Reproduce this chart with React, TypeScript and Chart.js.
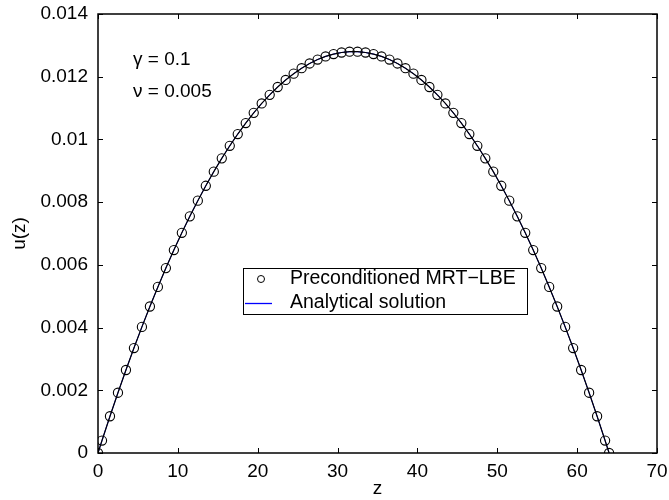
import React, { useEffect, useRef } from "react";
import { Chart, registerables } from "chart.js";

Chart.register(...registerables);

const zNodes = [
  0, 0.5, 1.5, 2.5, 3.5, 4.5, 5.5, 6.5, 7.5, 8.5, 9.5, 10.5, 11.5, 12.5, 13.5, 14.5, 15.5,
  16.5, 17.5, 18.5, 19.5, 20.5, 21.5, 22.5, 23.5, 24.5, 25.5, 26.5, 27.5, 28.5, 29.5, 30.5,
  31.5, 32.5, 33.5, 34.5, 35.5, 36.5, 37.5, 38.5, 39.5, 40.5, 41.5, 42.5, 43.5, 44.5, 45.5,
  46.5, 47.5, 48.5, 49.5, 50.5, 51.5, 52.5, 53.5, 54.5, 55.5, 56.5, 57.5, 58.5, 59.5, 60.5,
  61.5, 62.5, 63.5, 64,
];

const uNodes = [
  0, 0.000397, 0.001172, 0.001922, 0.002647, 0.003347, 0.004022, 0.004672, 0.005297,
  0.005897, 0.006472, 0.007022, 0.007547, 0.008047, 0.008522, 0.008972, 0.009397, 0.009797,
  0.010172, 0.010522, 0.010847, 0.011147, 0.011422, 0.011672, 0.011897, 0.012097, 0.012272,
  0.012422, 0.012547, 0.012647, 0.012722, 0.012772, 0.012797, 0.012797, 0.012772, 0.012722,
  0.012647, 0.012547, 0.012422, 0.012272, 0.012097, 0.011897, 0.011672, 0.011422, 0.011147,
  0.010847, 0.010522, 0.010172, 0.009797, 0.009397, 0.008972, 0.008522, 0.008047, 0.007547,
  0.007022, 0.006472, 0.005897, 0.005297, 0.004672, 0.004022, 0.003347, 0.002647, 0.001922,
  0.001172, 0.000397, 0,
];

const analyticZ = zNodes;
const analyticU = uNodes;

const xTicks = [0, 10, 20, 30, 40, 50, 60, 70];
const yTicks = [0, 0.002, 0.004, 0.006, 0.008, 0.01, 0.012, 0.014];

const legendLabels = ["Preconditioned MRT\u2212LBE", "Analytical solution"];
const paramLabels = ["\u03b3 = 0.1", "\u03bd = 0.005"];

const FONT = '"Liberation Sans", Arial, sans-serif';

const framePlugin = {
  id: "frameAndExtras",
  afterDraw(chart: any) {
    const ctx = chart.ctx;
    const { left, right, top, bottom } = chart.chartArea;
    const xs = chart.scales.x;
    const ys = chart.scales.y;
    ctx.save();
    ctx.strokeStyle = "#000";
    ctx.lineWidth = 1.5;
    ctx.strokeRect(left, top, right - left, bottom - top);
    ctx.lineWidth = 1;
    const tl = 5;
    ctx.beginPath();
    xTicks.forEach((t) => {
      const px = Math.round(xs.getPixelForValue(t)) + 0.5;
      ctx.moveTo(px, bottom);
      ctx.lineTo(px, bottom - tl);
      ctx.moveTo(px, top);
      ctx.lineTo(px, top + tl);
    });
    yTicks.forEach((t) => {
      const py = Math.round(ys.getPixelForValue(t)) + 0.5;
      ctx.moveTo(left, py);
      ctx.lineTo(left + tl, py);
      ctx.moveTo(right, py);
      ctx.lineTo(right - tl, py);
    });
    ctx.stroke();

    // parameter annotations
    ctx.fillStyle = "#000";
    ctx.font = `19px ${FONT}`;
    ctx.textBaseline = "middle";
    ctx.textAlign = "left";
    ctx.fillText(paramLabels[0], 133, 60);
    ctx.fillText(paramLabels[1], 133, 92);

    // legend
    const bx = 243, by = 268, bw = 284, bh = 46;
    ctx.fillStyle = "#fff";
    ctx.fillRect(bx, by, bw, bh);
    ctx.strokeStyle = "#000";
    ctx.lineWidth = 1;
    ctx.strokeRect(bx + 0.5, by + 0.5, bw, bh);
    ctx.beginPath();
    ctx.arc(261, 279, 3.5, 0, Math.PI * 2);
    ctx.stroke();
    ctx.strokeStyle = "#0000ff";
    ctx.lineWidth = 1.3;
    ctx.beginPath();
    ctx.moveTo(245, 303.5);
    ctx.lineTo(272, 303.5);
    ctx.stroke();
    ctx.fillStyle = "#000";
    ctx.font = `19.5px ${FONT}`;
    ctx.fillText(legendLabels[0], 290, 279);
    ctx.fillText(legendLabels[1], 290, 303);
    ctx.restore();
  },
};

export default function App() {
  const ref = useRef<HTMLCanvasElement>(null);
  useEffect(() => {
    document.body.style.margin = "0";
    if (!ref.current) return;
    const chart = new Chart(ref.current, {
      type: "scatter",
      data: {
        datasets: [
          {
            label: legendLabels[1],
            data: analyticZ.map((z, i) => ({ x: z, y: analyticU[i] })),
            showLine: true,
            borderColor: "#0000ff",
            borderWidth: 1,
            pointRadius: 0,
            order: 2,
          },
          {
            label: legendLabels[0],
            data: zNodes.map((z, i) => ({ x: z, y: uNodes[i] })),
            showLine: true,
            borderColor: "#000",
            borderWidth: 1.2,
            pointRadius: 4.6,
            pointBorderWidth: 1.1,
            pointBorderColor: "#000",
            pointBackgroundColor: "rgba(0,0,0,0)",
            order: 1,
          },
        ],
      },
      options: {
        animation: false,
        responsive: false,
        devicePixelRatio: 1,
        layout: { padding: { left: 0, top: 14, right: 12, bottom: 0 } },
        plugins: { legend: { display: false }, tooltip: { enabled: false } },
        scales: {
          x: {
            type: "linear",
            min: 0,
            max: 70,
            afterFit: (s: any) => {
              s.height = 47;
              s.paddingLeft = 0;
              s.paddingRight = 0;
            },
            afterBuildTicks: (s: any) => { s.ticks = xTicks.map((v) => ({ value: v })); },
            grid: { display: false, drawTicks: false },
            border: { display: false },
            ticks: { color: "#000", font: { family: FONT, size: 19 }, padding: 7, maxRotation: 0 },
            title: { display: true, text: "z", color: "#000", font: { family: FONT, size: 19 }, padding: { top: 0, bottom: 0 } },
          },
          y: {
            type: "linear",
            min: 0,
            max: 0.014,
            afterFit: (s: any) => {
              s.width = 98;
              s.paddingTop = 0;
              s.paddingBottom = 0;
            },
            afterBuildTicks: (s: any) => { s.ticks = yTicks.map((v) => ({ value: v })); },
            grid: { display: false, drawTicks: false },
            border: { display: false },
            ticks: {
              color: "#000",
              font: { family: FONT, size: 19 },
              padding: 10,
              callback: (v: any) => String(Number(Number(v).toFixed(3))),
            },
            title: { display: true, text: "u(z)", color: "#000", font: { family: FONT, size: 19 }, padding: { top: 8, bottom: 0 } },
          },
        },
      },
      plugins: [framePlugin],
    });
    return () => chart.destroy();
  }, []);
  return (
    <div style={{ position: "absolute", left: 0, top: 0, width: 669, height: 500, background: "#fff" }}>
      <canvas ref={ref} width={669} height={500} />
    </div>
  );
}
